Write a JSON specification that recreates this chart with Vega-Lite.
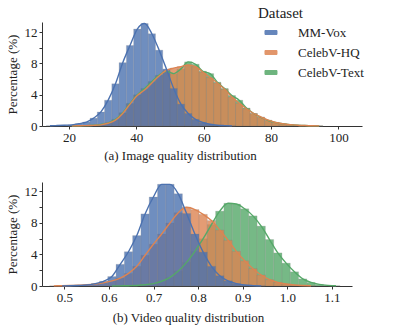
{
  "$schema": "https://vega.github.io/schema/vega-lite/v6.json",
  "padding": {"left": 6, "top": 6, "right": 5, "bottom": 5},
  "config": {
    "font": "Liberation Serif",
    "view": {"stroke": null},
    "axis": {
      "labelFont": "Liberation Serif", "labelFontSize": 13, "labelColor": "#222",
      "titleFont": "Liberation Serif", "titleFontSize": 13, "titleFontWeight": "normal", "titleColor": "#222",
      "domainColor": "#333", "tickColor": "#333", "tickSize": 3, "grid": false, "labelPadding": 2
    }
  },
  "datasets": {
    "image": [
      {"dataset":"CelebV-Text","lo":19.77,"hi":21.93,"mid":20.85,"pct":0.02},
      {"dataset":"CelebV-Text","lo":21.93,"hi":24.09,"mid":23.01,"pct":0.03},
      {"dataset":"CelebV-Text","lo":24.09,"hi":26.25,"mid":25.17,"pct":0.05},
      {"dataset":"CelebV-Text","lo":26.25,"hi":28.41,"mid":27.33,"pct":0.1},
      {"dataset":"CelebV-Text","lo":28.41,"hi":30.57,"mid":29.49,"pct":0.2},
      {"dataset":"CelebV-Text","lo":30.57,"hi":32.73,"mid":31.65,"pct":0.4},
      {"dataset":"CelebV-Text","lo":32.73,"hi":34.89,"mid":33.81,"pct":0.85},
      {"dataset":"CelebV-Text","lo":34.89,"hi":37.05,"mid":35.97,"pct":1.7},
      {"dataset":"CelebV-Text","lo":37.05,"hi":39.21,"mid":38.13,"pct":2.9},
      {"dataset":"CelebV-Text","lo":39.21,"hi":41.37,"mid":40.29,"pct":4.0},
      {"dataset":"CelebV-Text","lo":41.37,"hi":43.53,"mid":42.45,"pct":4.8},
      {"dataset":"CelebV-Text","lo":43.53,"hi":45.69,"mid":44.61,"pct":5.7},
      {"dataset":"CelebV-Text","lo":45.69,"hi":47.85,"mid":46.77,"pct":6.5},
      {"dataset":"CelebV-Text","lo":47.85,"hi":50.01,"mid":48.93,"pct":7.0},
      {"dataset":"CelebV-Text","lo":50.01,"hi":52.17,"mid":51.09,"pct":6.7},
      {"dataset":"CelebV-Text","lo":52.17,"hi":54.33,"mid":53.25,"pct":7.3},
      {"dataset":"CelebV-Text","lo":54.33,"hi":56.49,"mid":55.41,"pct":8.2},
      {"dataset":"CelebV-Text","lo":56.49,"hi":58.65,"mid":57.57,"pct":7.9},
      {"dataset":"CelebV-Text","lo":58.65,"hi":60.81,"mid":59.73,"pct":7.0},
      {"dataset":"CelebV-Text","lo":60.81,"hi":62.97,"mid":61.89,"pct":6.7},
      {"dataset":"CelebV-Text","lo":62.97,"hi":65.13,"mid":64.05,"pct":5.6},
      {"dataset":"CelebV-Text","lo":65.13,"hi":67.29,"mid":66.21,"pct":4.8},
      {"dataset":"CelebV-Text","lo":67.29,"hi":69.45,"mid":68.37,"pct":3.9},
      {"dataset":"CelebV-Text","lo":69.45,"hi":71.61,"mid":70.53,"pct":3.3},
      {"dataset":"CelebV-Text","lo":71.61,"hi":73.77,"mid":72.69,"pct":2.3},
      {"dataset":"CelebV-Text","lo":73.77,"hi":75.93,"mid":74.85,"pct":1.6},
      {"dataset":"CelebV-Text","lo":75.93,"hi":78.09,"mid":77.01,"pct":1.1},
      {"dataset":"CelebV-Text","lo":78.09,"hi":80.25,"mid":79.17,"pct":0.7},
      {"dataset":"CelebV-Text","lo":80.25,"hi":82.41,"mid":81.33,"pct":0.45},
      {"dataset":"CelebV-Text","lo":82.41,"hi":84.57,"mid":83.49,"pct":0.28},
      {"dataset":"CelebV-Text","lo":84.57,"hi":86.73,"mid":85.65,"pct":0.17},
      {"dataset":"CelebV-Text","lo":86.73,"hi":88.89,"mid":87.81,"pct":0.1},
      {"dataset":"CelebV-Text","lo":88.89,"hi":91.05,"mid":89.97,"pct":0.06},
      {"dataset":"CelebV-Text","lo":91.05,"hi":93.21,"mid":92.13,"pct":0.03},
      {"dataset":"CelebV-Text","lo":93.21,"hi":95.37,"mid":94.29,"pct":0.02},

      {"dataset":"CelebV-HQ","lo":19.77,"hi":21.93,"mid":20.85,"pct":0.02},
      {"dataset":"CelebV-HQ","lo":21.93,"hi":24.09,"mid":23.01,"pct":0.03},
      {"dataset":"CelebV-HQ","lo":24.09,"hi":26.25,"mid":25.17,"pct":0.05},
      {"dataset":"CelebV-HQ","lo":26.25,"hi":28.41,"mid":27.33,"pct":0.08},
      {"dataset":"CelebV-HQ","lo":28.41,"hi":30.57,"mid":29.49,"pct":0.15},
      {"dataset":"CelebV-HQ","lo":30.57,"hi":32.73,"mid":31.65,"pct":0.35},
      {"dataset":"CelebV-HQ","lo":32.73,"hi":34.89,"mid":33.81,"pct":0.75},
      {"dataset":"CelebV-HQ","lo":34.89,"hi":37.05,"mid":35.97,"pct":1.6},
      {"dataset":"CelebV-HQ","lo":37.05,"hi":39.21,"mid":38.13,"pct":2.8},
      {"dataset":"CelebV-HQ","lo":39.21,"hi":41.37,"mid":40.29,"pct":3.9},
      {"dataset":"CelebV-HQ","lo":41.37,"hi":43.53,"mid":42.45,"pct":4.6},
      {"dataset":"CelebV-HQ","lo":43.53,"hi":45.69,"mid":44.61,"pct":5.5},
      {"dataset":"CelebV-HQ","lo":45.69,"hi":47.85,"mid":46.77,"pct":6.4},
      {"dataset":"CelebV-HQ","lo":47.85,"hi":50.01,"mid":48.93,"pct":7.1},
      {"dataset":"CelebV-HQ","lo":50.01,"hi":52.17,"mid":51.09,"pct":7.4},
      {"dataset":"CelebV-HQ","lo":52.17,"hi":54.33,"mid":53.25,"pct":7.6},
      {"dataset":"CelebV-HQ","lo":54.33,"hi":56.49,"mid":55.41,"pct":7.8},
      {"dataset":"CelebV-HQ","lo":56.49,"hi":58.65,"mid":57.57,"pct":7.6},
      {"dataset":"CelebV-HQ","lo":58.65,"hi":60.81,"mid":59.73,"pct":6.9},
      {"dataset":"CelebV-HQ","lo":60.81,"hi":62.97,"mid":61.89,"pct":6.2},
      {"dataset":"CelebV-HQ","lo":62.97,"hi":65.13,"mid":64.05,"pct":5.5},
      {"dataset":"CelebV-HQ","lo":65.13,"hi":67.29,"mid":66.21,"pct":4.7},
      {"dataset":"CelebV-HQ","lo":67.29,"hi":69.45,"mid":68.37,"pct":3.7},
      {"dataset":"CelebV-HQ","lo":69.45,"hi":71.61,"mid":70.53,"pct":2.9},
      {"dataset":"CelebV-HQ","lo":71.61,"hi":73.77,"mid":72.69,"pct":2.2},
      {"dataset":"CelebV-HQ","lo":73.77,"hi":75.93,"mid":74.85,"pct":1.6},
      {"dataset":"CelebV-HQ","lo":75.93,"hi":78.09,"mid":77.01,"pct":1.15},
      {"dataset":"CelebV-HQ","lo":78.09,"hi":80.25,"mid":79.17,"pct":0.75},
      {"dataset":"CelebV-HQ","lo":80.25,"hi":82.41,"mid":81.33,"pct":0.45},
      {"dataset":"CelebV-HQ","lo":82.41,"hi":84.57,"mid":83.49,"pct":0.28},
      {"dataset":"CelebV-HQ","lo":84.57,"hi":86.73,"mid":85.65,"pct":0.17},
      {"dataset":"CelebV-HQ","lo":86.73,"hi":88.89,"mid":87.81,"pct":0.1},
      {"dataset":"CelebV-HQ","lo":88.89,"hi":91.05,"mid":89.97,"pct":0.06},
      {"dataset":"CelebV-HQ","lo":91.05,"hi":93.21,"mid":92.13,"pct":0.03},
      {"dataset":"CelebV-HQ","lo":93.21,"hi":95.37,"mid":94.29,"pct":0.02},

      {"dataset":"MM-Vox","lo":13.29,"hi":15.45,"mid":14.37,"pct":0.03},
      {"dataset":"MM-Vox","lo":15.45,"hi":17.61,"mid":16.53,"pct":0.06},
      {"dataset":"MM-Vox","lo":17.61,"hi":19.77,"mid":18.69,"pct":0.1},
      {"dataset":"MM-Vox","lo":19.77,"hi":21.93,"mid":20.85,"pct":0.15},
      {"dataset":"MM-Vox","lo":21.93,"hi":24.09,"mid":23.01,"pct":0.3},
      {"dataset":"MM-Vox","lo":24.09,"hi":26.25,"mid":25.17,"pct":0.5},
      {"dataset":"MM-Vox","lo":26.25,"hi":28.41,"mid":27.33,"pct":1.0},
      {"dataset":"MM-Vox","lo":28.41,"hi":30.57,"mid":29.49,"pct":1.8},
      {"dataset":"MM-Vox","lo":30.57,"hi":32.73,"mid":31.65,"pct":3.3},
      {"dataset":"MM-Vox","lo":32.73,"hi":34.89,"mid":33.81,"pct":5.4},
      {"dataset":"MM-Vox","lo":34.89,"hi":37.05,"mid":35.97,"pct":8.1},
      {"dataset":"MM-Vox","lo":37.05,"hi":39.21,"mid":38.13,"pct":10.3},
      {"dataset":"MM-Vox","lo":39.21,"hi":41.37,"mid":40.29,"pct":12.4},
      {"dataset":"MM-Vox","lo":41.37,"hi":43.53,"mid":42.45,"pct":13.1},
      {"dataset":"MM-Vox","lo":43.53,"hi":45.69,"mid":44.61,"pct":11.8},
      {"dataset":"MM-Vox","lo":45.69,"hi":47.85,"mid":46.77,"pct":9.7},
      {"dataset":"MM-Vox","lo":47.85,"hi":50.01,"mid":48.93,"pct":7.3},
      {"dataset":"MM-Vox","lo":50.01,"hi":52.17,"mid":51.09,"pct":4.8},
      {"dataset":"MM-Vox","lo":52.17,"hi":54.33,"mid":53.25,"pct":2.8},
      {"dataset":"MM-Vox","lo":54.33,"hi":56.49,"mid":55.41,"pct":1.6},
      {"dataset":"MM-Vox","lo":56.49,"hi":58.65,"mid":57.57,"pct":0.85},
      {"dataset":"MM-Vox","lo":58.65,"hi":60.81,"mid":59.73,"pct":0.45},
      {"dataset":"MM-Vox","lo":60.81,"hi":62.97,"mid":61.89,"pct":0.22},
      {"dataset":"MM-Vox","lo":62.97,"hi":65.13,"mid":64.05,"pct":0.1},
      {"dataset":"MM-Vox","lo":65.13,"hi":67.29,"mid":66.21,"pct":0.05},
      {"dataset":"MM-Vox","lo":67.29,"hi":69.45,"mid":68.37,"pct":0.02}
    ],
    "video": [
      {"dataset":"CelebV-Text","lo":0.5974,"hi":0.6160,"mid":0.6067,"pct":0.01},
      {"dataset":"CelebV-Text","lo":0.6160,"hi":0.6346,"mid":0.6253,"pct":0.02},
      {"dataset":"CelebV-Text","lo":0.6346,"hi":0.6532,"mid":0.6439,"pct":0.04},
      {"dataset":"CelebV-Text","lo":0.6532,"hi":0.6718,"mid":0.6625,"pct":0.07},
      {"dataset":"CelebV-Text","lo":0.6718,"hi":0.6904,"mid":0.6811,"pct":0.15},
      {"dataset":"CelebV-Text","lo":0.6904,"hi":0.7090,"mid":0.6997,"pct":0.3},
      {"dataset":"CelebV-Text","lo":0.7090,"hi":0.7276,"mid":0.7183,"pct":0.6},
      {"dataset":"CelebV-Text","lo":0.7276,"hi":0.7462,"mid":0.7369,"pct":1.1},
      {"dataset":"CelebV-Text","lo":0.7462,"hi":0.7648,"mid":0.7555,"pct":1.9},
      {"dataset":"CelebV-Text","lo":0.7648,"hi":0.7834,"mid":0.7741,"pct":3.0},
      {"dataset":"CelebV-Text","lo":0.7834,"hi":0.8020,"mid":0.7927,"pct":4.4},
      {"dataset":"CelebV-Text","lo":0.8020,"hi":0.8206,"mid":0.8113,"pct":6.0},
      {"dataset":"CelebV-Text","lo":0.8206,"hi":0.8392,"mid":0.8299,"pct":7.8},
      {"dataset":"CelebV-Text","lo":0.8392,"hi":0.8578,"mid":0.8485,"pct":9.5},
      {"dataset":"CelebV-Text","lo":0.8578,"hi":0.8764,"mid":0.8671,"pct":10.5},
      {"dataset":"CelebV-Text","lo":0.8764,"hi":0.8950,"mid":0.8857,"pct":10.4},
      {"dataset":"CelebV-Text","lo":0.8950,"hi":0.9136,"mid":0.9043,"pct":9.8},
      {"dataset":"CelebV-Text","lo":0.9136,"hi":0.9322,"mid":0.9229,"pct":8.9},
      {"dataset":"CelebV-Text","lo":0.9322,"hi":0.9508,"mid":0.9415,"pct":7.6},
      {"dataset":"CelebV-Text","lo":0.9508,"hi":0.9694,"mid":0.9601,"pct":5.9},
      {"dataset":"CelebV-Text","lo":0.9694,"hi":0.9880,"mid":0.9787,"pct":4.2},
      {"dataset":"CelebV-Text","lo":0.9880,"hi":1.0066,"mid":0.9973,"pct":2.9},
      {"dataset":"CelebV-Text","lo":1.0066,"hi":1.0252,"mid":1.0159,"pct":1.8},
      {"dataset":"CelebV-Text","lo":1.0252,"hi":1.0438,"mid":1.0345,"pct":0.9},
      {"dataset":"CelebV-Text","lo":1.0438,"hi":1.0624,"mid":1.0531,"pct":0.45},
      {"dataset":"CelebV-Text","lo":1.0624,"hi":1.0810,"mid":1.0717,"pct":0.2},
      {"dataset":"CelebV-Text","lo":1.0810,"hi":1.0996,"mid":1.0903,"pct":0.08},
      {"dataset":"CelebV-Text","lo":1.0996,"hi":1.1182,"mid":1.1089,"pct":0.03},

      {"dataset":"CelebV-HQ","lo":0.4672,"hi":0.4858,"mid":0.4765,"pct":0.02},
      {"dataset":"CelebV-HQ","lo":0.4858,"hi":0.5044,"mid":0.4951,"pct":0.04},
      {"dataset":"CelebV-HQ","lo":0.5044,"hi":0.5230,"mid":0.5137,"pct":0.07},
      {"dataset":"CelebV-HQ","lo":0.5230,"hi":0.5416,"mid":0.5323,"pct":0.1},
      {"dataset":"CelebV-HQ","lo":0.5416,"hi":0.5602,"mid":0.5509,"pct":0.15},
      {"dataset":"CelebV-HQ","lo":0.5602,"hi":0.5788,"mid":0.5695,"pct":0.25},
      {"dataset":"CelebV-HQ","lo":0.5788,"hi":0.5974,"mid":0.5881,"pct":0.4},
      {"dataset":"CelebV-HQ","lo":0.5974,"hi":0.6160,"mid":0.6067,"pct":0.65},
      {"dataset":"CelebV-HQ","lo":0.6160,"hi":0.6346,"mid":0.6253,"pct":1.0},
      {"dataset":"CelebV-HQ","lo":0.6346,"hi":0.6532,"mid":0.6439,"pct":1.6},
      {"dataset":"CelebV-HQ","lo":0.6532,"hi":0.6718,"mid":0.6625,"pct":2.5},
      {"dataset":"CelebV-HQ","lo":0.6718,"hi":0.6904,"mid":0.6811,"pct":3.9},
      {"dataset":"CelebV-HQ","lo":0.6904,"hi":0.7090,"mid":0.6997,"pct":5.3},
      {"dataset":"CelebV-HQ","lo":0.7090,"hi":0.7276,"mid":0.7183,"pct":6.6},
      {"dataset":"CelebV-HQ","lo":0.7276,"hi":0.7462,"mid":0.7369,"pct":8.0},
      {"dataset":"CelebV-HQ","lo":0.7462,"hi":0.7648,"mid":0.7555,"pct":9.3},
      {"dataset":"CelebV-HQ","lo":0.7648,"hi":0.7834,"mid":0.7741,"pct":10.0},
      {"dataset":"CelebV-HQ","lo":0.7834,"hi":0.8020,"mid":0.7927,"pct":9.7},
      {"dataset":"CelebV-HQ","lo":0.8020,"hi":0.8206,"mid":0.8113,"pct":9.1},
      {"dataset":"CelebV-HQ","lo":0.8206,"hi":0.8392,"mid":0.8299,"pct":8.3},
      {"dataset":"CelebV-HQ","lo":0.8392,"hi":0.8578,"mid":0.8485,"pct":7.1},
      {"dataset":"CelebV-HQ","lo":0.8578,"hi":0.8764,"mid":0.8671,"pct":5.8},
      {"dataset":"CelebV-HQ","lo":0.8764,"hi":0.8950,"mid":0.8857,"pct":4.4},
      {"dataset":"CelebV-HQ","lo":0.8950,"hi":0.9136,"mid":0.9043,"pct":3.2},
      {"dataset":"CelebV-HQ","lo":0.9136,"hi":0.9322,"mid":0.9229,"pct":2.2},
      {"dataset":"CelebV-HQ","lo":0.9322,"hi":0.9508,"mid":0.9415,"pct":1.4},
      {"dataset":"CelebV-HQ","lo":0.9508,"hi":0.9694,"mid":0.9601,"pct":0.8},
      {"dataset":"CelebV-HQ","lo":0.9694,"hi":0.9880,"mid":0.9787,"pct":0.45},
      {"dataset":"CelebV-HQ","lo":0.9880,"hi":1.0066,"mid":0.9973,"pct":0.25},
      {"dataset":"CelebV-HQ","lo":1.0066,"hi":1.0252,"mid":1.0159,"pct":0.12},
      {"dataset":"CelebV-HQ","lo":1.0252,"hi":1.0438,"mid":1.0345,"pct":0.06},
      {"dataset":"CelebV-HQ","lo":1.0438,"hi":1.0624,"mid":1.0531,"pct":0.03},

      {"dataset":"MM-Vox","lo":0.4858,"hi":0.5044,"mid":0.4951,"pct":0.02},
      {"dataset":"MM-Vox","lo":0.5044,"hi":0.5230,"mid":0.5137,"pct":0.04},
      {"dataset":"MM-Vox","lo":0.5230,"hi":0.5416,"mid":0.5323,"pct":0.07},
      {"dataset":"MM-Vox","lo":0.5416,"hi":0.5602,"mid":0.5509,"pct":0.12},
      {"dataset":"MM-Vox","lo":0.5602,"hi":0.5788,"mid":0.5695,"pct":0.3},
      {"dataset":"MM-Vox","lo":0.5788,"hi":0.5974,"mid":0.5881,"pct":0.6},
      {"dataset":"MM-Vox","lo":0.5974,"hi":0.6160,"mid":0.6067,"pct":1.2},
      {"dataset":"MM-Vox","lo":0.6160,"hi":0.6346,"mid":0.6253,"pct":2.75},
      {"dataset":"MM-Vox","lo":0.6346,"hi":0.6532,"mid":0.6439,"pct":4.35},
      {"dataset":"MM-Vox","lo":0.6532,"hi":0.6718,"mid":0.6625,"pct":6.4},
      {"dataset":"MM-Vox","lo":0.6718,"hi":0.6904,"mid":0.6811,"pct":9.15},
      {"dataset":"MM-Vox","lo":0.6904,"hi":0.7090,"mid":0.6997,"pct":11.3},
      {"dataset":"MM-Vox","lo":0.7090,"hi":0.7276,"mid":0.7183,"pct":12.9},
      {"dataset":"MM-Vox","lo":0.7276,"hi":0.7462,"mid":0.7369,"pct":12.9},
      {"dataset":"MM-Vox","lo":0.7462,"hi":0.7648,"mid":0.7555,"pct":11.7},
      {"dataset":"MM-Vox","lo":0.7648,"hi":0.7834,"mid":0.7741,"pct":9.2},
      {"dataset":"MM-Vox","lo":0.7834,"hi":0.8020,"mid":0.7927,"pct":6.6},
      {"dataset":"MM-Vox","lo":0.8020,"hi":0.8206,"mid":0.8113,"pct":4.3},
      {"dataset":"MM-Vox","lo":0.8206,"hi":0.8392,"mid":0.8299,"pct":2.5},
      {"dataset":"MM-Vox","lo":0.8392,"hi":0.8578,"mid":0.8485,"pct":1.3},
      {"dataset":"MM-Vox","lo":0.8578,"hi":0.8764,"mid":0.8671,"pct":0.65},
      {"dataset":"MM-Vox","lo":0.8764,"hi":0.8950,"mid":0.8857,"pct":0.3},
      {"dataset":"MM-Vox","lo":0.8950,"hi":0.9136,"mid":0.9043,"pct":0.12},
      {"dataset":"MM-Vox","lo":0.9136,"hi":0.9322,"mid":0.9229,"pct":0.05},
      {"dataset":"MM-Vox","lo":0.9322,"hi":0.9508,"mid":0.9415,"pct":0.02}
    ]
  },
  "spacing": 19,
  "resolve": {"legend": {"color": "independent"}},
  "vconcat": [
    {
      "width": 320, "height": 104,
      "data": {"name": "image"},
      "encoding": {
        "y": {"field": "pct", "type": "quantitative", "scale": {"domain": [0, 13.3], "nice": false},
              "axis": {"tickCount": 7, "labelOverlap": false, "labelExpr": "datum.value % 4 == 0 ? datum.label : ''", "title": "Percentage (%)", "titlePadding": 5}},
        "color": {"field": "dataset", "type": "nominal",
                  "scale": {"domain": ["MM-Vox", "CelebV-HQ", "CelebV-Text"], "range": ["#4C72B0", "#DD8452", "#55A868"]},
                  "legend": {"orient": "none", "legendX": 216, "legendY": -16, "title": "Dataset",
                             "titleFont": "Liberation Serif", "titleFontSize": 15, "titleFontWeight": "normal", "titleColor": "#222", "titlePadding": 5,
                             "labelFont": "Liberation Serif", "labelFontSize": 13, "labelColor": "#222", "labelOffset": 27,
                             "symbolType": "M0.08,-0.33H2.08V0.33H0.08Z", "symbolSize": 144, "symbolStrokeColor": "#333", "symbolStrokeWidth": 1,
                             "symbolOpacity": 0.85, "rowPadding": 6}}
      },
      "layer": [
        {
          "mark": {"type": "rect", "opacity": 0.8, "stroke": "#777", "strokeWidth": 0.5, "strokeOpacity": 0.45},
          "encoding": {
            "x": {"field": "lo", "type": "quantitative", "scale": {"domain": [12, 107], "nice": false, "zero": false},
                  "axis": {"values": [20, 40, 60, 80, 100], "title": "(a) Image quality distribution", "titlePadding": 5, "titleX": 138}},
            "x2": {"field": "hi"},
            "y2": {"datum": 0}
          }
        },
        {
          "mark": {"type": "line", "interpolate": "monotone", "strokeWidth": 1.4},
          "encoding": {
            "x": {"field": "mid", "type": "quantitative"}
          }
        }
      ]
    },
    {
      "width": 310, "height": 104,
      "data": {"name": "video"},
      "encoding": {
        "y": {"field": "pct", "type": "quantitative", "scale": {"domain": [0, 13.2], "nice": false},
              "axis": {"tickCount": 7, "labelOverlap": false, "labelExpr": "datum.value % 4 == 0 ? datum.label : ''", "title": "Percentage (%)", "titlePadding": 5}},
        "color": {"field": "dataset", "type": "nominal", "legend": null}
      },
      "layer": [
        {
          "mark": {"type": "rect", "opacity": 0.8, "stroke": "#777", "strokeWidth": 0.5, "strokeOpacity": 0.45},
          "encoding": {
            "x": {"field": "lo", "type": "quantitative", "scale": {"domain": [0.45, 1.145], "nice": false, "zero": false},
                  "axis": {"values": [0.5, 0.6, 0.7, 0.8, 0.9, 1.0, 1.1], "format": ".1f", "title": "(b) Video quality distribution", "titlePadding": 7, "titleX": 146}},
            "x2": {"field": "hi"},
            "y2": {"datum": 0}
          }
        },
        {
          "mark": {"type": "line", "interpolate": "monotone", "strokeWidth": 1.4},
          "encoding": {
            "x": {"field": "mid", "type": "quantitative"}
          }
        }
      ]
    }
  ]
}
